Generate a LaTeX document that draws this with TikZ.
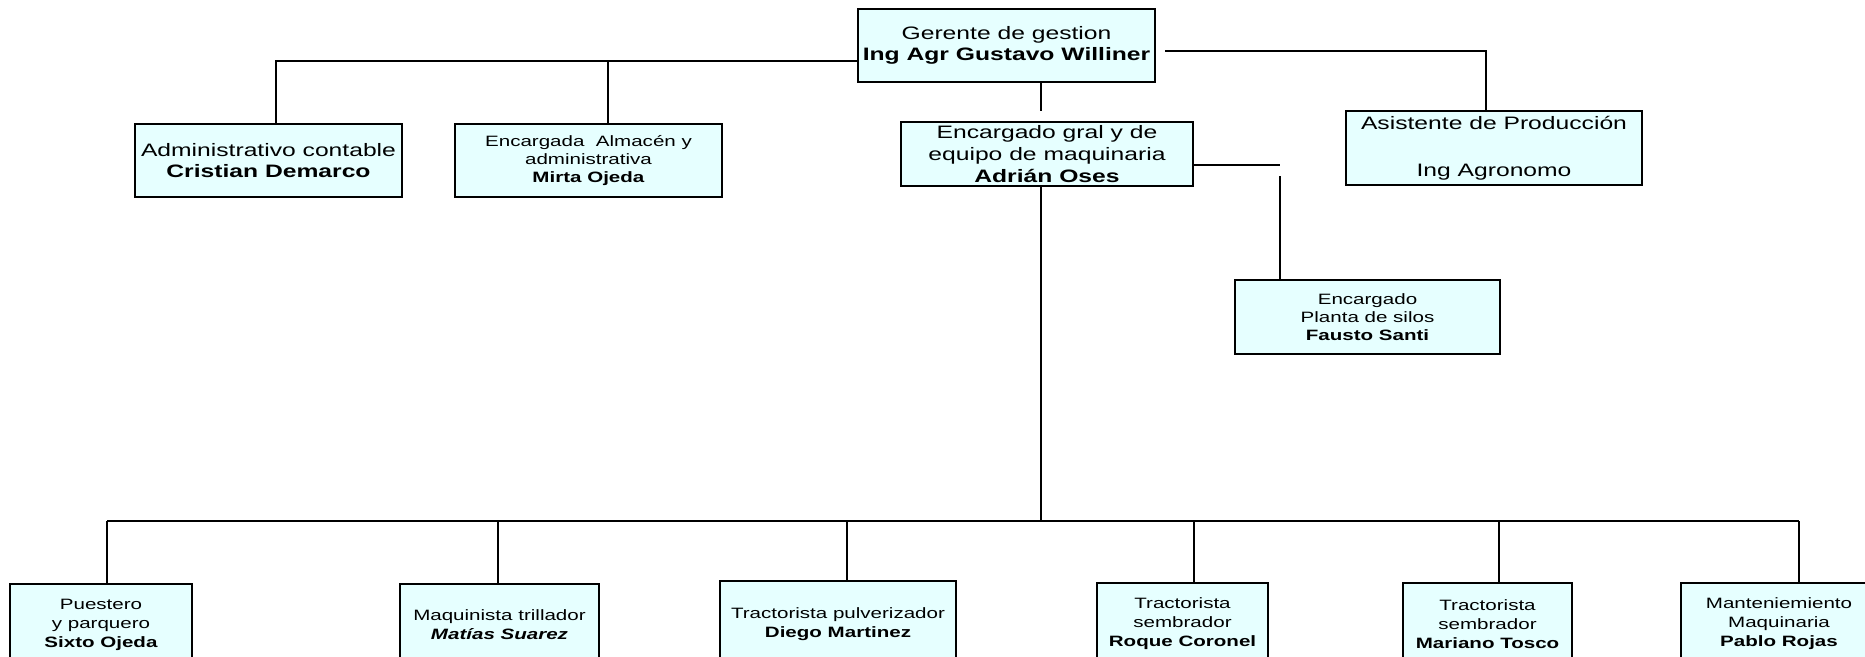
\documentclass[tikz,border=0pt]{standalone}
\usepackage{fontspec}
\setmainfont{Liberation Sans}[FakeStretch=1.37]
\definecolor{boxfill}{RGB}{230,255,255}
\tikzset{
  box/.style={draw=black, line width=2pt, fill=boxfill, inner sep=0pt, align=center, text=black},
  big/.style={font=\fontsize{18}{21}\selectfont},
  small/.style={font=\fontsize{15}{18}\selectfont},
  bot/.style={font=\fontsize{15}{19}\selectfont},
  conn/.style={draw=black, line width=2pt}
}
\begin{document}
\begin{tikzpicture}[x=1pt,y=-1pt]
\useasboundingbox (0,0) rectangle (1865,656);
\fill[white] (0,0) rectangle (1865,656);
\clip (0,0) rectangle (1865,656);
% top level
\node[box,big,minimum width=297pt,minimum height=73pt] (g) at (1006.5,45.5) {Gerente de gestion\\\textbf{Ing Agr Gustavo Williner}};
\node[box,big,minimum width=267pt,minimum height=73pt] (admin) at (268.5,160.5) {Administrativo contable\\\textbf{Cristian Demarco}};
\node[box,small,minimum width=267pt,minimum height=73pt] (alm) at (588.5,160.5) {Encargada\ \ Almacén y\\administrativa\\\textbf{Mirta Ojeda}};
\node[box,font=\fontsize{18}{22}\selectfont,minimum width=292pt,minimum height=64pt] (eg) at (1047,154) {Encargado gral y de\\equipo de maquinaria\\\textbf{Adrián Oses}};
\node[box,font=\fontsize{18}{23.5}\selectfont,minimum width=296pt,minimum height=74pt] (asis) at (1494,148) {Asistente de Producción\\\mbox{}\\Ing Agronomo};
\node[box,small,minimum width=265pt,minimum height=74pt] (planta) at (1367.5,317) {Encargado\\Planta de silos\\\textbf{Fausto Santi}};
% bottom level
\node[box,bot,minimum width=182pt,minimum height=82pt] (b1) at (101,625) {Puestero\\y parquero\\\textbf{Sixto Ojeda}};
\node[box,bot,minimum width=199pt,minimum height=82pt] (b2) at (499.5,625) {Maquinista trillador\\\textbf{\itshape Matías Suarez}};
\node[box,bot,minimum width=236pt,minimum height=86pt] (b3) at (838,624) {Tractorista pulverizador\\\textbf{Diego Martinez}};
\node[box,bot,minimum width=171pt,minimum height=82pt] (b4) at (1182.5,624) {Tractorista\\sembrador\\\textbf{Roque Coronel}};
\node[box,bot,minimum width=169pt,minimum height=82pt] (b5) at (1487.5,624) {Tractorista\\sembrador\\\textbf{Mariano Tosco}};
\node[box,bot,minimum width=196pt,minimum height=82pt] (b6) at (1779,624) {Manteniemiento\\Maquinaria\\\textbf{Pablo Rojas}};
% junction coordinates
\coordinate (jL) at (276,61);
\coordinate (jA) at (608,61);
\coordinate (gr) at (1165,51);
\coordinate (jR) at (1486,51);
\coordinate (st) at (1041,111);
\coordinate (pe) at (1280,165);
\coordinate (ps) at (1280,176);
\coordinate (jB) at (1041,521);
\coordinate (bl) at (107,521);
\coordinate (br) at (1799,521);
\coordinate (v2) at (498,521);
\coordinate (v3) at (847,521);
\coordinate (v4) at (1194,521);
\coordinate (v5) at (1499,521);
% connectors
\draw[conn] (g.west |- jL) -- (jL) -- (jL |- admin.north);
\draw[conn] (jA) -- (jA |- alm.north);
\draw[conn] (gr) -- (jR) -- (jR |- asis.north);
\draw[conn] (g.south -| st) -- (st);
\draw[conn] (eg.east |- pe) -- (pe);
\draw[conn] (ps) -- (ps |- planta.north);
\draw[conn] (eg.south -| jB) -- (jB);
\draw[conn] (bl) -- (br);
\draw[conn] (bl) -- (bl |- b1.north);
\draw[conn] (v2) -- (v2 |- b2.north);
\draw[conn] (v3) -- (v3 |- b3.north);
\draw[conn] (v4) -- (v4 |- b4.north);
\draw[conn] (v5) -- (v5 |- b5.north);
\draw[conn] (br) -- (br |- b6.north);
\end{tikzpicture}
\end{document}
